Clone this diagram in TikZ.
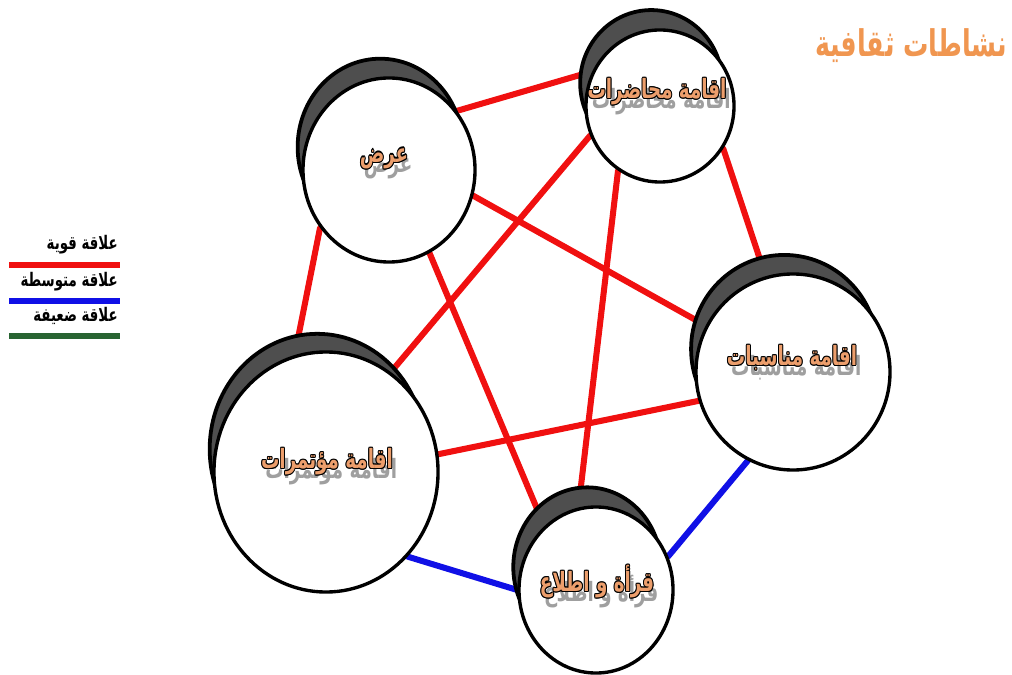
\documentclass[tikz,border=0pt]{standalone}
\usepackage{fontspec}
\usetikzlibrary{shapes.geometric,shadows,backgrounds}
\TeXXeTstate=1
\newfontfamily\arabicfont[Script=Arabic]{DejaVu Sans}
\definecolor{peach}{RGB}{236,158,108}
\definecolor{titleorange}{RGB}{240,150,80}
\definecolor{strongred}{RGB}{240,16,16}
\definecolor{midblue}{RGB}{16,16,230}
\definecolor{weakgreen}{RGB}{40,100,50}
\definecolor{rimgray}{RGB}{78,78,78}
% outlined orange word with a grey copy below it
\newcommand{\outlined}[1]{%
 \setbox0=\hbox{\beginR #1\endR}%
 \scalebox{1}[1.45]{\makebox[\wd0][l]{%
 \rlap{\raisebox{-5pt}{\hspace{3pt}\color{gray!75}\beginR #1\endR}}%
 \rlap{\hspace{-0.7pt}\color{black}\beginR #1\endR}%
 \rlap{\hspace{0.7pt}\color{black}\beginR #1\endR}%
 \rlap{\raisebox{0.6pt}{\color{black}\beginR #1\endR}}%
 \rlap{\raisebox{-0.6pt}{\color{black}\beginR #1\endR}}%
 \rlap{\raisebox{0.45pt}{\hspace{0.5pt}\color{black}\beginR #1\endR}}%
 \rlap{\raisebox{-0.45pt}{\hspace{-0.5pt}\color{black}\beginR #1\endR}}%
 \rlap{\raisebox{0.45pt}{\hspace{-0.5pt}\color{black}\beginR #1\endR}}%
 \rlap{\raisebox{-0.45pt}{\hspace{0.5pt}\color{black}\beginR #1\endR}}%
 \color{peach}\beginR #1\endR}}}

\begin{document}
\begin{tikzpicture}[x=0.025cm,y=-0.025cm,
 activity/.style={ellipse,draw=black,line width=2.4pt,fill=white,inner sep=0pt,
 general shadow={fill=rimgray,draw=black,line width=2.8pt,shadow scale=0.96,
 shadow xshift=-6.5pt,shadow yshift=17pt}},
 caption/.style={font=\arabicfont\bfseries\fontsize{13}{15}\selectfont,inner sep=0pt},
 link/.style={line width=4.3pt,line cap=round},
 strong/.style={link,strongred},
 medium/.style={link,midblue},
 weak/.style={link,weakgreen},
 legendtext/.style={font=\arabicfont\bfseries\fontsize{9.5}{11}\selectfont,anchor=east,inner sep=0pt}]
\useasboundingbox (0,0) rectangle (1012,675);
% title
\node[font=\arabicfont\bfseries\fontsize{18}{20}\selectfont,text=titleorange,inner sep=0pt]
 (title) at (911,46) {\scalebox{1}[1.45]{\beginR نشاطات ثقافية\endR}};
% legend
\node[legendtext] (lgstrong) at (118,245) {\scalebox{1}[1.4]{\beginR علاقة قوية\endR}};
\draw[strong,line cap=butt] (9,265) -- (120,265);
\node[legendtext] (lgmedium) at (118,282) {\scalebox{1}[1.4]{\beginR علاقة متوسطة\endR}};
\draw[medium,line cap=butt] (9,301) -- (120,301);
\node[legendtext] (lgweak) at (118,316) {\scalebox{1}[1.4]{\beginR علاقة ضعيفة\endR}};
\draw[weak,line cap=butt] (9,336) -- (120,336);
% activities
\node[activity,minimum width=4.3cm,minimum height=4.6cm] (show) at (389,170) {};
\node[activity,minimum width=3.7cm,minimum height=3.8cm] (lecture) at (660,106) {};
\node[activity,minimum width=4.85cm,minimum height=4.9cm] (event) at (793,372) {};
\node[activity,minimum width=5.6cm,minimum height=6cm] (conference) at (326,472) {};
\node[activity,minimum width=3.85cm,minimum height=4.15cm] (reading) at (596,590) {};
\node[caption] (showtxt) at (384,163) {\outlined{عرض}};
\node[caption] (lecturetxt) at (657,96) {\outlined{اقامة محاضرات}};
\node[caption] (eventtxt) at (792,362) {\outlined{اقامة مناسبات}};
\node[caption] (conferencetxt) at (327,466) {\outlined{اقامة مؤتمرات}};
\node[caption] (readingtxt) at (597,586) {\outlined{قرأة و اطلاع}};
% relations behind the circles
\begin{scope}[on background layer]
\draw[strong] (show.41.8) -- (lecture.153);
\draw[strong] (show.-17) -- (event.152.5);
\draw[strong] (show.-140.8) -- (conference.105);
\draw[strong] (show.-64) -- (reading.129.5);
\draw[strong] (lecture.-157.5) -- (conference.57);
\draw[strong] (lecture.-123) -- (reading.102.5);
\draw[strong] (lecture.-34) -- (event.106);
\draw[strong] (event.-163) -- (conference.9);
\draw[medium] (conference.-46) -- (reading.180);
\draw[medium] (event.-117) -- (reading.25);
\end{scope}
\end{tikzpicture}
\end{document}
